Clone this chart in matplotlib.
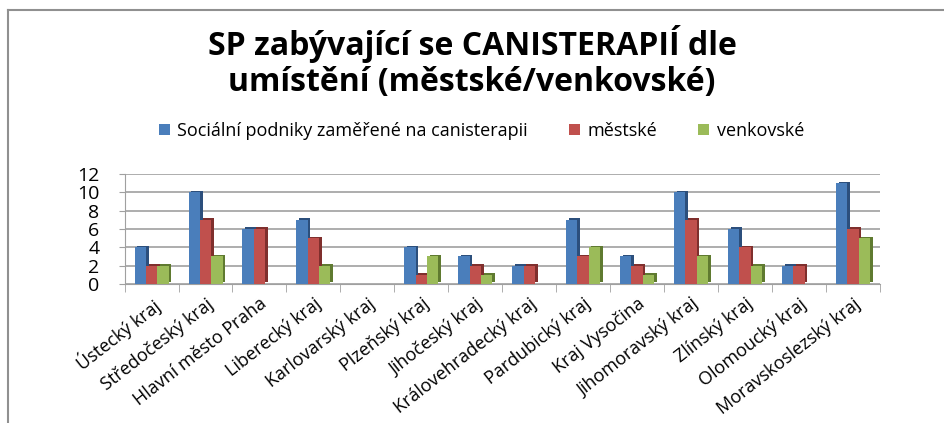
import numpy as np
import matplotlib
matplotlib.use("Agg")
import matplotlib.pyplot as plt
from matplotlib.lines import Line2D

plt.rcParams['font.family'] = ['Open Sans', 'DejaVu Sans']

kraje = ['Ústecký kraj', 'Středočeský kraj', 'Hlavní město Praha', 'Liberecký kraj',
         'Karlovarský kraj', 'Plzeňský kraj', 'Jihočeský kraj', 'Královehradecký kraj',
         'Pardubický kraj', 'Kraj Vysočina', 'Jihomoravský kraj', 'Zlínský kraj',
         'Olomoucký kraj', 'Moravskoslezský kraj']
celkem = [4, 10, 6, 7, 0, 4, 3, 2, 7, 3, 10, 6, 2, 11]
mestske = [2, 7, 6, 5, 0, 1, 2, 2, 3, 2, 7, 4, 2, 6]
venkovske = [2, 3, 0, 2, 0, 3, 1, 0, 4, 1, 3, 2, 0, 5]

series = [('Sociální podniky zaměřené na canisterapii', celkem, '#4a7ebb', '#2c4f7c'),
          ('městské', mestske, '#c0504d', '#7f2f2d'),
          ('venkovské', venkovske, '#9bbb59', '#5f7a30')]

fig = plt.figure(figsize=(9.44, 4.23), dpi=100)
ax = fig.add_axes([0.132, 0.329, 0.80, 0.26])

x = np.arange(len(kraje))
w = 0.21
for i, (name, vals, col, dark) in enumerate(series):
    pos = x + (i - 1) * w
    # tmavsi bok sloupce (3D vzhled)
    ax.bar(pos + 0.05, vals, w, bottom=0.15, color=dark, zorder=2)
    ax.bar(pos, vals, w, color=col, zorder=3, label=name)

ax.set_ylim(0, 12)
ax.set_yticks(range(0, 13, 2))
ax.set_xlim(-0.5, len(kraje) - 0.5)
ax.set_xticks(x)
ax.set_xticklabels(kraje, rotation=38, ha='right', rotation_mode='anchor', fontsize=13)
ax.tick_params(axis='y', labelsize=14, length=4, pad=14, color='#a0a0a0')
ax.tick_params(axis='x', length=0, pad=8)
ax.yaxis.grid(True, color='#a0a0a0', lw=1.2, zorder=0)
for s in ['top', 'right']:
    ax.spines[s].set_visible(False)
ax.spines['left'].set_color('#a0a0a0')
ax.spines['bottom'].set_color('#a0a0a0')
ax.set_xticks(np.arange(len(kraje) + 1) - 0.5, minor=True)
ax.tick_params(axis='x', which='minor', length=6, color='#a0a0a0')

fig.text(0.5, 0.853, 'SP zabývající se CANISTERAPIÍ dle\numístění (městské/venkovské)',
         ha='center', va='center', fontsize=23, fontweight='bold', linespacing=1.1)
fig.legend(loc='center', bbox_to_anchor=(0.51, 0.69), ncol=3, frameon=False,
           fontsize=13, handlelength=0.6, handleheight=0.6, columnspacing=2.3,
           handletextpad=0.4)

fig.add_artist(Line2D([0.009, 1.0], [0.976, 0.976], color='#909090', lw=1.5))
fig.add_artist(Line2D([0.009, 0.009], [0.0, 0.976], color='#909090', lw=1.5))

fig.savefig('out.png', dpi=100)
